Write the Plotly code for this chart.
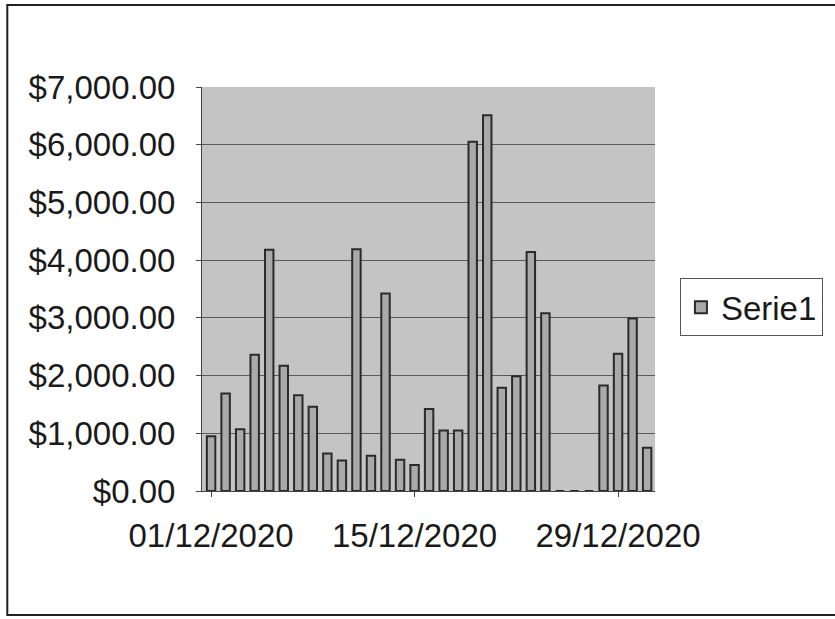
import plotly.graph_objects as go
import pandas as pd

dates = pd.date_range("2020-12-01", "2020-12-31", freq="D").strftime("%Y-%m-%d").tolist()
values = [950, 1690, 1070, 2360, 4180, 2170, 1660, 1460, 650, 530,
          4190, 610, 3420, 540, 450, 1420, 1050, 1050, 6050, 6510,
          1790, 1990, 4140, 3080, 0, 0, 0, 1830, 2380, 2990, 750]
series_name = "Serie1"
y_ticks = [0, 1000, 2000, 3000, 4000, 5000, 6000, 7000]
x_ticks = ["2020-12-01", "2020-12-15", "2020-12-29"]

FONT = "Liberation Sans, Arial, sans-serif"

fig = go.Figure()
fig.add_trace(go.Bar(
    x=dates, y=values, name=series_name,
    marker=dict(color="#a9a9a9", line=dict(color="#2a2a2a", width=2)),
    showlegend=True,
))

fig.update_layout(
    width=835, height=619,
    margin=dict(l=202, r=177, t=87, b=128),
    paper_bgcolor="white",
    plot_bgcolor="#c4c4c4",
    bargap=0.42,
    font=dict(family=FONT, size=33, color="#1a1a1a"),
    legend=dict(
        x=1.055, y=0.455, xanchor="left", yanchor="middle",
        bordercolor="#555555", borderwidth=1,
        font=dict(size=33, family=FONT, color="#1a1a1a"),
        bgcolor="white",
    ),
    xaxis=dict(
        type="date",
        range=["2020-11-30 09:00", "2020-12-31 13:00"],
        tickvals=x_ticks,
        tickformat="%d/%m/%Y",
        ticks="outside", ticklen=5, tickcolor="#444444",
        ticklabelstandoff=10,
        showgrid=False,
        showline=True, linecolor="#444444", linewidth=1,
        tickfont=dict(size=33, family=FONT),
    ),
    yaxis=dict(
        range=[0, 7000],
        tickvals=y_ticks,
        tickformat="$,.2f",
        ticks="outside", ticklen=5, tickcolor="#444444",
        ticklabelstandoff=14,
        showgrid=True, gridcolor="#5a5a5a", gridwidth=1,
        showline=True, linecolor="#444444", linewidth=1,
        zeroline=False,
        tickfont=dict(size=33, family=FONT),
    ),
    shapes=[
        dict(type="rect", xref="paper", yref="paper",
             x0=(6 - 202) / 456, x1=(900 - 202) / 456,
             y0=(491 - 615) / 404, y1=(491 - 5) / 404,
             line=dict(color="#222222", width=2), fillcolor="rgba(0,0,0,0)",
             layer="below"),
    ],
)

fig.write_html("out.html", config={"displayModeBar": False},
               post_script="document.body.style.margin='0';document.body.style.overflow='hidden';")
